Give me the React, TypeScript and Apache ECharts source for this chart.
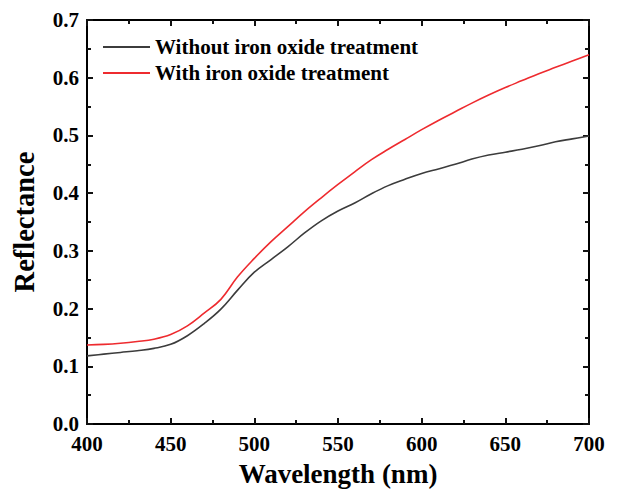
import React, { useEffect, useRef } from "react";
import * as echarts from "echarts";

// Wavelength samples (nm)
const wavelengths = [
  400, 410, 420, 430, 440, 450, 460, 470, 480, 490, 500, 510, 520, 530, 540, 550,
  560, 570, 580, 590, 600, 610, 620, 630, 640, 650, 660, 670, 680, 690, 700,
];

// Reflectance without iron oxide treatment
const withoutTreatment = [
  0.118, 0.121, 0.124, 0.127, 0.131, 0.138, 0.153, 0.174, 0.199, 0.232, 0.263,
  0.285, 0.307, 0.331, 0.352, 0.369, 0.383, 0.399, 0.413, 0.424, 0.434, 0.442,
  0.45, 0.459, 0.466, 0.471, 0.476, 0.482, 0.489, 0.494, 0.499,
];

// Reflectance with iron oxide treatment
const withTreatment = [
  0.137, 0.138, 0.14, 0.143, 0.147, 0.155, 0.17, 0.192, 0.216, 0.255, 0.287,
  0.316, 0.342, 0.368, 0.392, 0.415, 0.437, 0.458, 0.476, 0.493, 0.51, 0.526,
  0.541, 0.556, 0.57, 0.583, 0.595, 0.607, 0.618, 0.629, 0.64,
];

const seriesNames = ["Without iron oxide treatment", "With iron oxide treatment"];
const seriesColors = ["#3c3c3c", "#ee2b2f"];

const FONT = "'Liberation Serif', 'Times New Roman', serif";

const labelStyle = () => ({
  color: "#000",
  fontFamily: FONT,
  fontWeight: "bold" as const,
  fontSize: 21,
});

// Frame axis pieces: thick black line with inward major and minor ticks
const frame = () => ({
  axisLine: { show: true, onZero: false, lineStyle: { color: "#000", width: 2 } },
  axisTick: { show: true, inside: true, length: 6, lineStyle: { color: "#111", width: 2 } },
  minorTick: { show: true, splitNumber: 2, length: 4, lineStyle: { color: "#111", width: 2 } },
  splitLine: { show: false },
});

export default function App() {
  const ref = useRef<HTMLDivElement>(null);

  useEffect(() => {
    if (!ref.current) return;
    const chart = echarts.init(ref.current, undefined, { renderer: "svg" });

    chart.setOption({
      animation: false,
      grid: { left: 87, right: 31, top: 20, bottom: 68 },
      legend: {
        orient: "vertical",
        left: 103,
        top: 36,
        padding: 0,
        icon: "rect",
        itemWidth: 47,
        itemHeight: 2,
        itemGap: 4,
        data: seriesNames,
        textStyle: { ...labelStyle(), fontSize: 21, lineHeight: 22 },
      },
      xAxis: [
        {
          type: "value",
          min: 400,
          max: 700,
          interval: 50,
          position: "bottom",
          ...frame(),
          axisLabel: { ...labelStyle(), margin: 9 },
          name: "Wavelength (nm)",
          nameLocation: "middle",
          nameGap: 36,
          nameTextStyle: { ...labelStyle(), fontSize: 27 },
        },
        {
          type: "value",
          min: 400,
          max: 700,
          interval: 50,
          position: "top",
          ...frame(),
          axisLabel: { show: false },
        },
      ],
      yAxis: [
        {
          type: "value",
          min: 0,
          max: 0.7,
          interval: 0.1,
          position: "left",
          ...frame(),
          axisLabel: { ...labelStyle(), margin: 8, formatter: (v: number) => v.toFixed(1) },
          name: "Reflectance",
          nameLocation: "middle",
          nameGap: 48,
          nameTextStyle: { ...labelStyle(), fontSize: 28.5 },
        },
        {
          type: "value",
          min: 0,
          max: 0.7,
          interval: 0.1,
          position: "right",
          ...frame(),
          axisLabel: { show: false },
        },
      ],
      series: [
        {
          name: seriesNames[0],
          type: "line",
          symbol: "none",
          smooth: 0.4,
          lineStyle: { color: seriesColors[0], width: 1.6 },
          itemStyle: { color: seriesColors[0] },
          data: wavelengths.map((w, i) => [w, withoutTreatment[i]]),
        },
        {
          name: seriesNames[1],
          type: "line",
          symbol: "none",
          smooth: 0.4,
          lineStyle: { color: seriesColors[1], width: 1.6 },
          itemStyle: { color: seriesColors[1] },
          data: wavelengths.map((w, i) => [w, withTreatment[i]]),
        },
      ],
    });

    return () => chart.dispose();
  }, []);

  return (
    <div
      ref={ref}
      style={{ position: "fixed", left: 0, top: 0, width: 620, height: 492, background: "#fff" }}
    />
  );
}
